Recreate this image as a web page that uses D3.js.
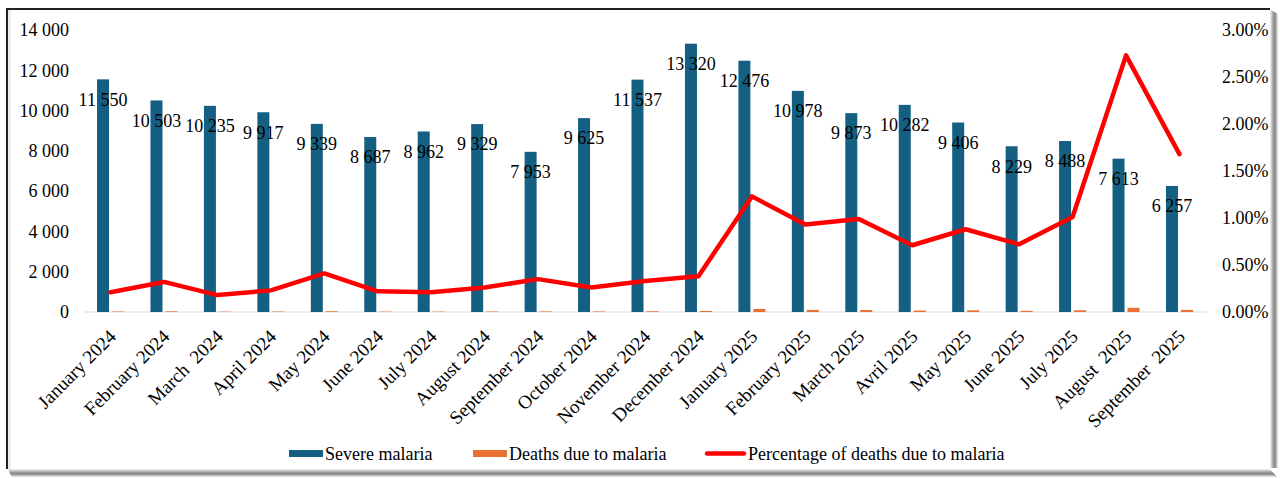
<!DOCTYPE html>
<html>
<head>
<meta charset="utf-8">
<script src="https://cdn.jsdelivr.net/npm/d3@7"></script>
<style>
  body { margin: 0; background: #fff; }
  svg { display: block; }
  text { font-family: "Liberation Serif", "Times New Roman", serif; fill: #000; }
</style>
</head>
<body>
<svg id="chart" width="1280" height="478"></svg>
<script>
// Monthly malaria figures, January 2024 – September 2025
const months = [
  "January 2024", "February 2024", "March  2024", "April 2024", "May 2024", "June 2024",
  "July 2024", "August 2024", "September 2024", "October 2024", "November 2024", "December 2024",
  "January 2025", "February 2025", "March 2025", "Avril 2025", "May 2025", "June 2025",
  "July 2025", "August  2025", "September  2025"
];
const severeMalaria = [
  11550, 10503, 10235, 9917, 9339, 8687, 8962, 9329, 7953, 9625, 11537, 13320,
  12476, 10978, 9873, 10282, 9406, 8229, 8488, 7613, 6257
];
const malariaDeaths = [
  24, 34, 18, 23, 38, 19, 19, 24, 28, 25, 38, 51,
  153, 102, 98, 73, 83, 59, 86, 208, 105
];
const deathPercentage = [
  0.0021, 0.0032, 0.0018, 0.0023, 0.0041, 0.0022, 0.0021, 0.0026, 0.0035, 0.0026, 0.0033, 0.0038,
  0.0123, 0.0093, 0.0099, 0.0071, 0.0088, 0.0072, 0.0101, 0.0273, 0.0168
];
const countTicks = [0, 2000, 4000, 6000, 8000, 10000, 12000, 14000];
const percentTicks = [0, 0.005, 0.01, 0.015, 0.02, 0.025, 0.03];
const seriesNames = ["Severe malaria", "Deaths due to malaria", "Percentage of deaths due to malaria"];

const BLUE = "#156082", ORANGE = "#E97132", RED = "#FF0000";
const SERIF = '"Liberation Serif", "Times New Roman", serif';

const svg = d3.select("#chart");

// Frame with a soft shadow on the right and bottom edges
const frame = svg.append("g");
const shade = ["#e6e6e6", "#cfcfcf", "#b3b3b3", "#9a9a9a", "#8a8a8a", "#9a9a9a", "#bdbdbd", "#dcdcdc"];
shade.forEach((c, i) => {
  frame.append("rect").attr("x", 1270 + i).attr("y", 10 + i * 0.5).attr("width", 1).attr("height", 468 - 10 - i * 0.5).attr("fill", c);
  frame.append("rect").attr("x", 8 + i * 0.5).attr("y", 469 + i).attr("width", 1262 + i * 0.5).attr("height", 1).attr("fill", c);
});
frame.append("rect").attr("x", 6).attr("y", 8).attr("width", 1264).attr("height", 2).attr("fill", "#222");
frame.append("rect").attr("x", 6).attr("y", 8).attr("width", 2).attr("height", 461).attr("fill", "#222");
frame.append("rect").attr("x", 8).attr("y", 10).attr("width", 3).attr("height", 459).attr("fill", "#ececec");

// Scales
const x = d3.scaleBand().domain(months).range([83.8, 1206.2]).paddingInner(0).paddingOuter(0);
const xSub = d3.scaleBand().domain(["severe", "deaths"]).range([-13.5, 13.5]).paddingInner(0.2);
const yLeft = d3.scaleLinear().domain([0, 14000]).range([312, 30]);
const yRight = d3.scaleLinear().domain([0, 0.03]).range([312, 30]);
const cx = m => x(m) + x.bandwidth() / 2;

const fmtCount = v => d3.format(",")(v).replace(/,/g, " ");
const fmtPct = d3.format(".2%");

// Left axis
const leftAxis = svg.append("g")
  .attr("transform", "translate(69,0)")
  .call(d3.axisLeft(yLeft).tickValues(countTicks).tickSize(0).tickPadding(0).tickFormat(fmtCount));
leftAxis.select(".domain").remove();
leftAxis.attr("font-family", null).attr("font-size", null);
leftAxis.selectAll("text").style("font-size", "18px").style("font-family", SERIF).attr("fill", "#000");

// Right axis
const rightAxis = svg.append("g")
  .attr("transform", "translate(1222,0)")
  .call(d3.axisRight(yRight).tickValues(percentTicks).tickSize(0).tickPadding(0).tickFormat(fmtPct));
rightAxis.select(".domain").remove();
rightAxis.attr("font-family", null).attr("font-size", null);
rightAxis.selectAll("text").style("font-size", "18px").style("font-family", SERIF).attr("fill", "#000");

// Baseline
svg.append("line")
  .attr("x1", x.range()[0]).attr("x2", x.range()[1] + 1)
  .attr("y1", yLeft(0)).attr("y2", yLeft(0))
  .attr("stroke", "#d9d9d9").attr("stroke-width", 1.2);

// Bars
const rows = months.map((m, i) => ({ m, severe: severeMalaria[i], deaths: malariaDeaths[i], pct: deathPercentage[i] }));

svg.append("g").selectAll("rect").data(rows).join("rect")
  .attr("x", d => cx(d.m) + xSub("severe"))
  .attr("width", xSub.bandwidth())
  .attr("y", d => yLeft(d.severe))
  .attr("height", d => yLeft(0) - yLeft(d.severe))
  .attr("fill", BLUE);

svg.append("g").selectAll("rect").data(rows).join("rect")
  .attr("x", d => cx(d.m) + xSub("deaths"))
  .attr("width", xSub.bandwidth())
  .attr("y", d => yLeft(d.deaths))
  .attr("height", d => yLeft(0) - yLeft(d.deaths))
  .attr("fill", ORANGE);

// Percentage line
const line = d3.line().x(d => cx(d.m)).y(d => yRight(d.pct));
svg.append("path")
  .datum(rows)
  .attr("d", line)
  .attr("fill", "none")
  .attr("stroke", RED)
  .attr("stroke-width", 4.5)
  .attr("stroke-linejoin", "round")
  .attr("stroke-linecap", "round");

// Value labels for severe malaria
svg.append("g").selectAll("text").data(rows).join("text")
  .attr("x", d => cx(d.m) + xSub("severe") + xSub.bandwidth() / 2)
  .attr("y", d => yLeft(d.severe) + 20)
  .attr("dy", "0.35em")
  .attr("text-anchor", "middle")
  .style("font-size", "18px")
  .text(d => fmtCount(d.severe));

// Category labels
svg.append("g").selectAll("text").data(months).join("text")
  .attr("transform", m => `translate(${cx(m) + 2},${yLeft(0) + 21}) rotate(-45)`)
  .attr("text-anchor", "end")
  .attr("dy", "0.35em")
  .style("font-size", "19px")
  .style("white-space", "pre")
  .text(m => m);

// Legend
const legend = svg.append("g");
const legendItems = [
  { name: seriesNames[0], type: "bar", color: BLUE, x: 289 },
  { name: seriesNames[1], type: "bar", color: ORANGE, x: 473 },
  { name: seriesNames[2], type: "line", color: RED, x: 705 }
];
legendItems.forEach(it => {
  if (it.type === "bar") {
    legend.append("rect").attr("x", it.x).attr("y", 450).attr("width", 34).attr("height", 7).attr("fill", it.color);
  } else {
    legend.append("line").attr("x1", it.x + 2).attr("x2", it.x + 39).attr("y1", 453.5).attr("y2", 453.5)
      .attr("stroke", it.color).attr("stroke-width", 4.5).attr("stroke-linecap", "round");
  }
  legend.append("text").attr("x", it.x + 36 + (it.type === "line" ? 7 : 0)).attr("y", 453.5).attr("dy", "0.35em")
    .style("font-size", "18px").text(it.name);
});
</script>
</body>
</html>
